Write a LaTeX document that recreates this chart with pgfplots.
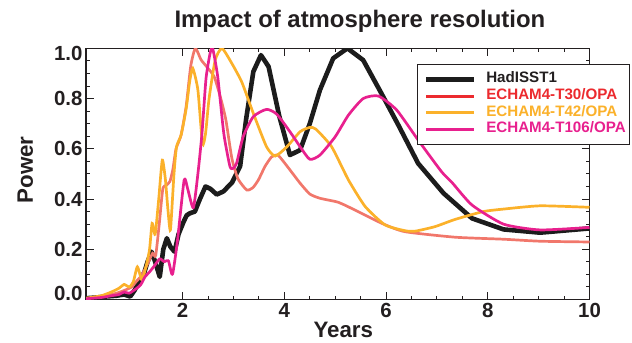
\documentclass[border=0pt]{standalone}
\usepackage{pgfplots}
\pgfplotsset{compat=1.18}
\usepackage{fontspec}
\setmainfont{Liberation Sans}
\definecolor{hadblack}{HTML}{1C1C1C}
\definecolor{salmon}{HTML}{F1776B}
\definecolor{legred}{HTML}{EC2A2E}
\definecolor{amber}{HTML}{FBB12A}
\definecolor{magen}{HTML}{E8208E}
\definecolor{txt}{HTML}{231F20}

\pgfplotstableread{
x y
0.10 0.005
0.30 0.008
0.50 0.012
0.70 0.015
0.85 0.02
0.97 0.012
1.05 0.035
1.13 0.065
1.25 0.11
1.31 0.15
1.39 0.19
1.46 0.15
1.55 0.09
1.62 0.20
1.69 0.244
1.76 0.21
1.84 0.19
1.92 0.26
2.02 0.31
2.08 0.335
2.14 0.343
2.24 0.35
2.34 0.40
2.45 0.45
2.55 0.44
2.67 0.418
2.80 0.43
2.97 0.465
3.13 0.53
3.25 0.72
3.39 0.907
3.54 0.973
3.69 0.927
3.90 0.73
4.11 0.575
4.31 0.595
4.50 0.70
4.70 0.834
4.96 0.96
5.24 1.0
5.55 0.953
5.91 0.82
6.24 0.695
6.63 0.542
7.13 0.423
7.69 0.323
8.31 0.279
9.03 0.266
10.0 0.283
}\hadisst

\pgfplotstableread{
x y
0.10 0.005
0.40 0.012
0.70 0.025
0.90 0.04
1.00 0.05
1.08 0.07
1.17 0.09
1.25 0.117
1.33 0.15
1.41 0.184
1.47 0.175
1.54 0.30
1.61 0.44
1.68 0.455
1.75 0.47
1.81 0.52
1.87 0.60
1.97 0.655
2.07 0.77
2.16 0.93
2.25 1.00
2.36 0.955
2.46 0.93
2.62 0.887
2.75 0.80
2.85 0.715
2.97 0.56
3.09 0.48
3.26 0.436
3.38 0.445
3.49 0.476
3.62 0.53
3.75 0.568
3.87 0.575
3.98 0.55
4.11 0.516
4.31 0.463
4.50 0.42
4.70 0.403
5.06 0.387
5.39 0.356
5.92 0.303
6.37 0.27
7.36 0.248
8.31 0.24
9.03 0.232
10.0 0.229
}\tthirty

\pgfplotstableread{
x y
0.10 0.005
0.40 0.015
0.60 0.03
0.75 0.045
0.85 0.06
0.95 0.05
1.03 0.07
1.11 0.13
1.20 0.078
1.29 0.14
1.35 0.20
1.40 0.303
1.46 0.26
1.53 0.40
1.60 0.555
1.66 0.48
1.71 0.36
1.76 0.277
1.83 0.50
1.88 0.608
1.97 0.655
2.07 0.76
2.14 0.87
2.20 0.92
2.30 0.834
2.39 0.62
2.45 0.66
2.52 0.80
2.64 0.953
2.77 1.0
2.93 0.953
3.16 0.867
3.39 0.741
3.65 0.608
3.82 0.571
4.05 0.608
4.31 0.668
4.50 0.685
4.62 0.678
4.93 0.608
5.26 0.476
5.59 0.37
5.98 0.297
6.37 0.274
6.57 0.272
6.96 0.29
7.36 0.319
7.91 0.35
8.31 0.36
9.03 0.373
10.0 0.367
}\tfortytwo

\pgfplotstableread{
x y
0.10 0.003
0.40 0.008
0.60 0.015
0.75 0.02
0.85 0.03
0.95 0.025
1.10 0.045
1.18 0.06
1.26 0.09
1.35 0.11
1.43 0.13
1.55 0.162
1.64 0.15
1.72 0.155
1.80 0.100
1.90 0.237
2.03 0.476
2.10 0.44
2.21 0.365
2.30 0.50
2.38 0.66
2.46 0.88
2.54 0.98
2.59 1.0
2.69 0.887
2.81 0.66
2.93 0.53
2.99 0.522
3.06 0.542
3.19 0.648
3.39 0.728
3.65 0.757
3.85 0.738
4.11 0.668
4.31 0.608
4.50 0.558
4.70 0.575
5.00 0.648
5.26 0.734
5.55 0.80
5.85 0.81
6.21 0.754
6.63 0.635
7.09 0.509
7.30 0.465
7.69 0.376
8.31 0.30
9.03 0.277
10.0 0.287
}\tonehundredsix

\begin{document}
\begin{tikzpicture}
\begin{axis}[
  width=503.5bp, height=251.2bp, scale only axis,
  xmin=0.1, xmax=10, ymin=0, ymax=1,
  xtick={2,4,6,8,10}, xticklabels={2,4,6,8,10},
  ytick={0,0.2,0.4,0.6,0.8,1.0},
  yticklabels={\raisebox{6bp}[\height][\depth]{0.0},0.2,0.4,0.6,0.8,\raisebox{-5bp}[\height][\depth]{1.0}},
  minor x tick num=3, minor y tick num=3,
  tick align=inside, tick pos=both,
  major tick length=8bp, minor tick length=4bp,
  every tick/.style={line width=0.9bp, color=txt},
  axis line style={line width=1.3bp, color=txt},
  ticklabel style={font=\fontsize{20.5}{20.5}\selectfont\bfseries, color=txt},
  title={Impact of atmosphere resolution},
  title style={at={(0.544,1.0597)}, anchor=base, font=\fontsize{24}{24}\selectfont\bfseries, color=txt},
  xlabel={Years},
  xlabel style={at={(0.511,-0.153)}, anchor=base, inner sep=0pt, font=\fontsize{22.4}{22.4}\selectfont\bfseries, color=txt},
  ylabel={Power},
  ylabel style={at={(-0.1053,0.5155)}, anchor=base, rotate=0, font=\fontsize{22.4}{22.4}\selectfont\bfseries, color=txt},
  legend image code/.code={\path (0bp,0bp); \draw[#1] (4.4bp,0bp) -- (52.4bp,0bp);},
  legend style={at={(0.657,0.9375)}, anchor=north west, draw=txt, line width=1.2bp,
    fill=white, font=\fontsize{15.2}{16}\selectfont\bfseries,
    inner xsep=2bp, inner ysep=6.5bp, column sep=7.7bp,
    nodes={inner xsep=2bp, inner ysep=0bp, text height=11.5bp, text depth=5.2bp}},
  legend cell align=left,
  clip=true,
]
\addlegendimage{line width=4.8bp, color=hadblack}
\addlegendentry{\textcolor{txt}{HadISST1}}
\addlegendimage{line width=2.9bp, color=legred}
\addlegendentry{\textcolor{legred}{ECHAM4-T30/OPA}}
\addlegendimage{line width=2.9bp, color=amber}
\addlegendentry{\textcolor{amber}{ECHAM4-T42/OPA}}
\addlegendimage{line width=2.9bp, color=magen}
\addlegendentry{\textcolor{magen}{ECHAM4-T106/OPA}}

\addplot[forget plot, color=hadblack, line width=4.6bp, line join=round] table {\hadisst};
\addplot[forget plot, color=salmon, line width=2.7bp, smooth, tension=0.35] table {\tthirty};
\addplot[forget plot, color=amber, line width=2.7bp, smooth, tension=0.35] table {\tfortytwo};
\addplot[forget plot, color=magen, line width=2.7bp, smooth, tension=0.35, line join=round] table {\tonehundredsix};
\end{axis}
\pgfresetboundingbox
\useasboundingbox ([shift={(-86bp,-42.5bp)}]current axis.south west) rectangle ([shift={(42.5bp,48.3bp)}]current axis.north east);
\end{tikzpicture}
\end{document}
